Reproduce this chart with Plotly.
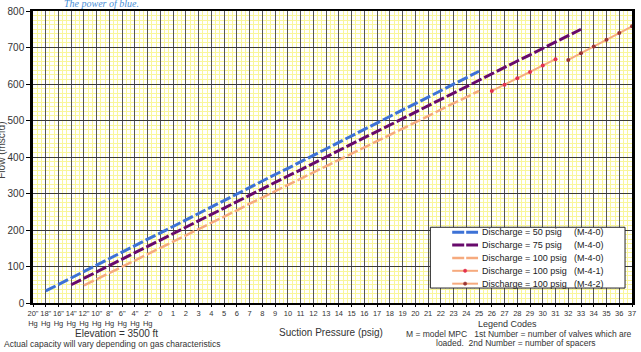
import plotly.graph_objects as go

# ---------------- data ----------------
categories = ['20"<br>Hg', '18"<br>Hg', '16"<br>Hg', '14"<br>Hg', '12"<br>Hg',
              '10"<br>Hg', '8"<br>Hg', '6"<br>Hg', '4"<br>Hg', '2"<br>Hg',
              '0', '1', '2', '3', '4', '5', '6', '7', '8', '9', '10', '11', '12',
              '13', '14', '15', '16', '17', '18', '19', '20', '21', '22', '23',
              '24', '25', '26', '27', '28', '29', '30', '31', '32', '33', '34',
              '35', '36', '37']

# Discharge = 50 psig (M-4-0): 18"Hg .. 25 psig
flow_50 = [33, 51, 68, 86, 104, 122, 139, 157, 175, 192, 210, 228, 245, 263, 281,
           299, 316, 334, 352, 369, 387, 405, 422, 440, 458, 476, 493, 511, 529,
           546, 564, 582, 599, 617, 635]
start_50 = '18"<br>Hg'

# Discharge = 75 psig (M-4-0): 14"Hg .. 33 psig
flow_75 = [50, 68, 85, 103, 120, 138, 155, 173, 190, 208, 225, 243, 260, 278, 295,
           313, 330, 348, 365, 383, 400, 418, 435, 453, 470, 488, 505, 523, 540,
           558, 575, 593, 610, 628, 645, 663, 680, 698, 715, 733, 750]
start_75 = '14"<br>Hg'

# Discharge = 100 psig (M-4-0): 12"Hg .. 25 psig
flow_100_m40 = [48, 65, 82, 100, 117, 134, 151, 168, 186, 203, 220, 237, 254, 272,
                289, 306, 323, 340, 358, 375, 392, 409, 426, 444, 461, 478, 495,
                512, 530, 547, 564, 581]
start_100_m40 = '12"<br>Hg'

# Discharge = 100 psig (M-4-1): 26 .. 31 psig
flow_100_m41 = [581, 598, 616, 633, 651, 668]
start_100_m41 = '26'

# Discharge = 100 psig (M-4-2): 32 .. 37 psig
flow_100_m42 = [666, 684, 703, 721, 740, 758]
start_100_m42 = '32'

legend_names = ['Discharge = 50 psig', 'Discharge = 75 psig', 'Discharge = 100 psig',
                'Discharge = 100 psig', 'Discharge = 100 psig']
legend_codes = ['(M-4-0)', '(M-4-0)', '(M-4-0)', '(M-4-1)', '(M-4-2)']

y_ticks = [0, 100, 200, 300, 400, 500, 600, 700, 800]

# ---------------- styles ----------------
BLUE = '#3d72d6'
PURPLE = '#680a6c'
ORANGE = '#f6aa7e'
RED1 = '#e3304f'
RED2 = '#9a3434'
DASH = '11px,3px'
FONT = 'Arial, Liberation Sans, sans-serif'
MINOR = '#f9f69a'

series = [
    (flow_50, start_50, BLUE, 3, DASH, None),
    (flow_75, start_75, PURPLE, 3, DASH, None),
    (flow_100_m40, start_100_m40, ORANGE, 2.5, DASH, None),
    (flow_100_m41, start_100_m41, ORANGE, 2, 'solid', RED1),
    (flow_100_m42, start_100_m42, ORANGE, 2, 'solid', RED2),
]

fig = go.Figure()
for vals, start, col, w, dash, mcol in series:
    i0 = categories.index(start)
    xs = list(range(i0, i0 + len(vals)))
    fig.add_trace(go.Scatter(
        x=xs, y=vals,
        mode='lines+markers' if mcol else 'lines',
        line=dict(color=col, width=w, dash=dash),
        marker=dict(color=mcol, size=4) if mcol else None,
        cliponaxis=False if mcol else True,
        showlegend=False, hoverinfo='skip'))

# ---------------- layout ----------------
L, R, T, B = 33, 636, 10, 303
W, H = R - L, B - T


def px(x):
    return (x - L) / W


def py(y):
    return (B - y) / H


fig.update_layout(
    width=641, height=352,
    margin=dict(l=L, r=641 - R, t=T, b=352 - B),
    paper_bgcolor='white', plot_bgcolor='white',
    font=dict(family=FONT, color='#333333'),
    xaxis=dict(
        range=[0, len(categories) - 1],
        tickmode='array', tickvals=list(range(len(categories))), ticktext=categories,
        tickfont=dict(size=7.5, color='#333333'), tickangle=0,
        showgrid=True, gridcolor='#555555', gridwidth=1,
        minor=dict(tick0=0, dtick=1 / 3, showgrid=True, gridcolor=MINOR, gridwidth=1.2),
        showline=True, linecolor='black', linewidth=2, mirror=True,
        ticks='outside', ticklen=2, tickcolor='black',
        zeroline=False, fixedrange=True),
    yaxis=dict(
        range=[0, 800], tickmode='array', tickvals=y_ticks,
        tickfont=dict(size=10, color='#333333'),
        showgrid=True, gridcolor='#3a3a3a', gridwidth=1,
        minor=dict(tick0=0, dtick=12.5, showgrid=True, gridcolor=MINOR, gridwidth=1.2),
        showline=True, linecolor='black', linewidth=2.5, mirror=True,
        ticks='outside', ticklen=4, tickcolor='black',
        zeroline=False, fixedrange=True),
)

shapes = []
annotations = []

# manual legend
shapes.append(dict(type='rect', xref='paper', yref='paper',
                   x0=px(433), x1=px(629), y0=py(288), y1=py(227),
                   fillcolor='white', line=dict(color='#222222', width=1), layer='above'))
for k, (vals, start, col, w, dash, mcol) in enumerate(series):
    yk = 232 + 12.9 * k
    shapes.append(dict(type='line', xref='paper', yref='paper',
                       x0=px(455), x1=px(481), y0=py(yk), y1=py(yk),
                       line=dict(color=col, width=w, dash='12px,2px' if dash != 'solid' else 'solid'),
                       layer='above'))
    if mcol:
        shapes.append(dict(type='circle', xref='paper', yref='paper',
                           x0=px(466.3), x1=px(469.7), y0=py(yk + 1.7), y1=py(yk - 1.7),
                           fillcolor=mcol, line=dict(color=mcol, width=0.5), layer='above'))
    annotations.append(dict(xref='paper', yref='paper', x=px(483), y=py(yk),
                            xanchor='left', yanchor='middle', showarrow=False,
                            text=legend_names[k], font=dict(size=9, color='#222222', family=FONT)))
    annotations.append(dict(xref='paper', yref='paper', x=px(576), y=py(yk),
                            xanchor='left', yanchor='middle', showarrow=False,
                            text=legend_codes[k], font=dict(size=9, color='#222222', family=FONT)))

# header / titles / notes
annotations += [
    dict(xref='paper', yref='paper', x=px(62), y=py(2), xanchor='left', yanchor='middle',
         showarrow=False, text='<i>The power of blue.</i>',
         font=dict(size=10, color='#4a8fd6', family='Liberation Serif, DejaVu Serif, serif')),
    dict(xref='paper', yref='paper', x=px(1), y=py(150), xanchor='center', yanchor='middle',
         showarrow=False, text='Flow (mscfd)', textangle=-90,
         font=dict(size=10, color='#444444', family=FONT)),
    dict(xref='paper', yref='paper', x=px(333), y=py(333), xanchor='center', yanchor='middle',
         showarrow=False, text='Suction Pressure (psig)',
         font=dict(size=10, color='#333333', family=FONT)),
    dict(xref='paper', yref='paper', x=px(117), y=py(334), xanchor='center', yanchor='middle',
         showarrow=False, text='Elevation = 3500 ft',
         font=dict(size=10, color='#333333', family=FONT)),
    dict(xref='paper', yref='paper', x=px(2), y=py(344), xanchor='left', yanchor='middle',
         showarrow=False, text='Actual capacity will vary depending on gas characteristics',
         font=dict(size=8.5, color='#333333', family=FONT)),
    dict(xref='paper', yref='paper', x=px(511), y=py(324), xanchor='center', yanchor='middle',
         showarrow=False, text='Legend Codes',
         font=dict(size=9, color='#333333', family=FONT)),
    dict(xref='paper', yref='paper', x=px(522), y=py(334), xanchor='center', yanchor='middle',
         showarrow=False, text='M = model MPC&nbsp;&nbsp; 1st Number = number of valves which are',
         font=dict(size=8.5, color='#333333', family=FONT)),
    dict(xref='paper', yref='paper', x=px(519), y=py(343.5), xanchor='center', yanchor='middle',
         showarrow=False, text='loaded.&nbsp; 2nd Number = number of spacers',
         font=dict(size=8.5, color='#333333', family=FONT)),
]

fig.update_layout(shapes=shapes, annotations=annotations)

fig.write_html('out.html')
